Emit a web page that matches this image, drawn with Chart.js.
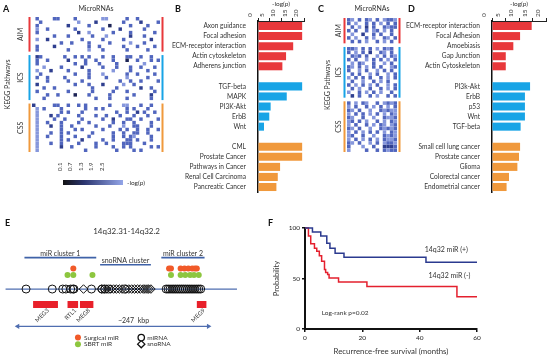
<!DOCTYPE html>
<html>
<head>
<meta charset="utf-8">
<script src="https://cdn.jsdelivr.net/npm/chart.js@4.4.0/dist/chart.umd.min.js"></script>
<style>
html, body { margin: 0; padding: 0; background: #fff; }
#wrap { position: relative; width: 550px; height: 356px; overflow: hidden; }
.pane { position: absolute; }
.tag { position: absolute; font: bold 9px Lato, sans-serif; color: #111; }
</style>
</head>
<body>
<div id="wrap">
  <div class="pane" style="left:0;top:0;width:175px;height:200px"><canvas id="heatA"></canvas></div>
  <div class="pane" style="left:40px;top:160px;width:110px;height:30px"><canvas id="scaleA"></canvas></div>
  <div class="pane" style="left:140px;top:0;width:170px;height:200px"><canvas id="barsB"></canvas></div>
  <div class="pane" style="left:300px;top:0;width:110px;height:200px"><canvas id="heatC"></canvas></div>
  <div class="pane" style="left:385px;top:0;width:165px;height:200px"><canvas id="barsD"></canvas></div>
  <div class="pane" style="left:0;top:195px;width:250px;height:161px"><canvas id="locusE"></canvas></div>
  <div class="pane" style="left:270px;top:200px;width:280px;height:156px"><canvas id="kmF"></canvas></div>
  <div class="tag" style="left:3px;top:3px">A</div>
  <div class="tag" style="left:175px;top:3px">B</div>
  <div class="tag" style="left:318px;top:3px">C</div>
  <div class="tag" style="left:408px;top:3px">D</div>
  <div class="tag" style="left:5px;top:217px">E</div>
  <div class="tag" style="left:268px;top:217px">F</div>
</div>
<script>
// ---- A: miRNA x pathway -log(p) heatmap, one string per pathway row ('.' = empty, 1 dark .. 4 light)
const heatAimA = [
  ".3....33....3.......44.....3..3......",
  "..3..........4....2.......3....2....3",
  ".3........2.....3.....1.....3....3...",
  ".4..3.......3.......3....2......3....",
  ".3...........2..4......3....3......3.",
  "......3...3......3...4......2...3....",
  ".4..2.........3.....3.....3.......2..",
  "........3..3....3.....3.....4...3....",
  ".3....2.........3..3......3...3....3.",
  ".3........3.....4...3......3.....3..."
];
const heatIcsA = [
  ".23......3..3.3.3...3..3...33..3..3..",
  ".3..3.....2....3..3....3...1..3...3.3",
  ".3..........3..3...3....3.......4....",
  "...4....3.....2.....3...3...3..3...3.",
  ".4...2....3.....3......4....3....3...",
  "..3.........3...3...4......3..3....3.",
  ".3..3....3......3....3.....4.....3...",
  "....3.....3...3..........3..3..3....3",
  ".2..........3...3...2.....4..3.......",
  "...3..3..........3......3......2..3..",
  ".3........3......3.....3...3.......3.",
  "....3..3....1...3.....3......3....2..",
  "...3..............3...3....3......3.."
];
const heatCssA = [
  "2.....33..3..3.3......3...44...3..3..",
  ".4.3....3......3..3.3......3.3...3...",
  ".4......3.3...3.........3..3..2.3..3.",
  ".4...2.3.....3....3..3...3...3...3...",
  ".4....3..3....3.....3..2...33..3....3",
  ".4..3...3....3..3......3..3..3....3..",
  ".4...2..3..3......3...3...4..33...3..",
  ".4......3...3.3.....3....3.3..3..3..3",
  ".4...3..3.3......3.....3..3..33..3...",
  ".4..3...3...3...3......3..3.34....3..",
  ".4......3.3...2.....3..3...33.3...3..",
  ".4...3..3....3....3..3....333...3....",
  ".4......2..3......3....3..3.3.....3.3",
  ".4.............3........3....3.3....."
];

// ---- C: heatmap for the second miRNA set
const heatAimC = [
  "34.3.34.3.4334",
  "3.4..3.3.4.3.3",
  ".3.4.2.3..3433",
  "3.3..3.43.4.3.",
  ".4..2..3.3..3.",
  "3.4..3.4..34.3",
  ".3.3.4..3.4.3."
];
const heatIcsC = [
  "334.3.3.4.343.",
  "3.4.3.2..34.3.",
  ".343.3..4.3.34",
  "3.3..4.3.3.4.3",
  ".4.34..3..4.3.",
  "34.3.4.3.3..43",
  "3..4.3..4.3.3.",
  ".3.3..4.3..4.3",
  "4.3.3.3..3.4.3",
  ".3..4..3.4.3..",
  "3.4.3.4.3..4.3",
  ".3.4..3..3.4.3",
  "4..3.4.3.4..3.",
  ".2.3..3.4..3.3"
];
const heatCssC = [
  "3.4.34..3.4343",
  "4.3..3.4.3.4.3",
  "34.3..4..34344",
  "4.3.3.4.3.4.34",
  "34..3..4..3443",
  "43.3.4..3.4.34",
  "4.3..3.4.34.43",
  "34.3..4..34343",
  "4.3.4.3.3.4.34",
  "43..3..4..3434",
  "4.3.4.3.4.3443",
  "34.3..4.3.4334",
  "3...4..3..2223",
  "4....3..3.3433"
];
const scaleTicks = [0.1, 0.7, 1.3, 1.9, 2.5];

// ---- B: enriched pathways
const bAimLabels = ['Axon guidance', 'Focal adhesion', 'ECM-receptor interaction', 'Actin cytoskeleton', 'Adherens junction'];
const bAimValues = [19.2, 19.2, 15.3, 12.2, 10.6];
const bIcsLabels = ['TGF-beta', 'MAPK', 'PI3K-Akt', 'ErbB', 'Wnt'];
const bIcsValues = [19.2, 12.5, 5.5, 4.9, 2.6];
const bCssLabels = ['CML', 'Prostate Cancer', 'Pathways in Cancer', 'Renal Cell Carcinoma', 'Pancreatic Cancer'];
const bCssValues = [19.2, 19.2, 9.6, 8.6, 8.0];

// ---- D
const dAimLabels = ['ECM-receptor interaction', 'Focal Adhesion', 'Amoebiasis', 'Gap Junction', 'Actin Cytoskeleton'];
const dAimValues = [14.7, 10.4, 7.9, 5.1, 5.1];
const dIcsLabels = ['PI3k-Akt', 'ErbB', 'p53', 'Wnt', 'TGF-beta'];
const dIcsValues = [14.1, 12.2, 12.2, 12.2, 10.6];
const dCssLabels = ['Small cell lung cancer', 'Prostate cancer', 'Glioma', 'Colorectal cancer', 'Endometrial cancer'];
const dCssValues = [10.4, 10.0, 9.4, 6.3, 5.4];
const logpTicks = [0, 5, 10, 15, 20];

// ---- E: 14q32 locus, positions in kbp from the start of the ~247 kbp span
const mirnaPos = [10.8, 44.7, 58.3, 62.4, 68.6, 71.6, 72.8, 95.5, 109.2, 112.9, 117.9, 139,
  192.3, 194.8, 197.3, 199.8, 202.2, 204.7, 207.2, 209.7, 212.2, 214.6, 217.1, 219.6, 222.1,
  224.6, 227.0, 229.5, 232.0, 234.5, 237.0];
const snornaPos = [85.2, 107.9, 111.7, 115.4, 120.3, 124.1, 127.8, 131.5, 135.2, 140.2, 143.9,
  147.6, 151.4, 155.1, 158.8, 162.5, 165, 167.5, 170, 172.5];
const surgicalPos = [72, 196, 198.5, 211, 216, 221, 226, 229.5, 232];
const sbrtPos = [64.5, 72, 96.8, 198.5, 211, 217, 223.3, 228.3, 234.5];
const geneNames = ['MEG3', 'RTL1', 'MEG8', 'MEG9'];
const geneStart = [19.9, 64.5, 80.6, 232];
const geneEnd = [52.1, 78.2, 98, 244.4];
const clusterNames = ['miR cluster 1', 'snoRNA cluster', 'miR cluster 2'];
const clusterStart = [8.7, 106.7, 186];
const clusterEnd = [101.7, 172.5, 242];
const spanKbp = 247;

// ---- F: Kaplan-Meier, recurrence-free survival
const posTimes = [0, 2.6, 5.5, 7.6, 8.7, 10.5, 13.6, 42.2, 60];
const posSurv = [100, 96, 92, 85, 80, 75, 71, 66, 66];
const negTimes = [0, 1.2, 2, 3.3, 4.1, 5, 5.8, 6.8, 7.2, 7.9, 8.4, 11.7, 21.6, 53, 60];
const negSurv = [100, 92, 84.5, 80, 77, 72.6, 67, 59, 56, 54, 50.5, 46.5, 42, 32, 32];

const RED = '#e8383b', BLUE = '#18a4e6', ORANGE = '#f0993c';
const FONT = 'Lato, sans-serif';
const heatColors = { 1: '#1d2456', 2: '#2f3f8f', 3: '#5166be', 4: '#8697dc' };

// text placed in data coordinates
const notes = {
  id: 'notes',
  afterDatasetsDraw(chart, args, opts) {
    const items = opts.items || [];
    const { ctx, scales } = chart;
    items.forEach(n => {
      const px = scales.x.getPixelForValue(n.x);
      const py = scales.y.getPixelForValue(n.y);
      ctx.save();
      ctx.font = (n.size || 7) + 'px ' + FONT;
      ctx.fillStyle = n.color || '#333';
      ctx.textAlign = n.align || 'center';
      ctx.textBaseline = 'middle';
      ctx.translate(px + (n.dx || 0), py + (n.dy || 0));
      if (n.rot) ctx.rotate(n.rot);
      ctx.fillText(n.text, 0, 0);
      ctx.restore();
    });
  }
};

// coloured group bars + labels beside the heatmaps
const groupBars = {
  id: 'groupBars',
  afterDatasetsDraw(chart, args, opts) {
    if (!opts.groups) return;
    const { ctx, chartArea: a, scales: { y } } = chart;
    ctx.save();
    ctx.font = '7px ' + FONT;
    ctx.textAlign = 'center';
    ctx.textBaseline = 'middle';
    opts.groups.forEach(g => {
      const top = y.getPixelForValue(g.from - 0.5), bot = y.getPixelForValue(g.to + 0.5);
      ctx.fillStyle = g.color;
      ctx.fillRect(a.left - 3.5, top, 2, bot - top);
      ctx.fillRect(a.right + 1.5, top, 2, bot - top);
      ctx.fillStyle = '#333';
      ctx.save();
      ctx.translate(a.left - opts.labelGap, (top + bot) / 2);
      ctx.rotate(-Math.PI / 2);
      ctx.fillText(g.name, 0, 0);
      ctx.restore();
    });
    ctx.fillStyle = '#333';
    ctx.save();
    ctx.translate(a.left - opts.titleGap, (a.top + a.bottom) / 2);
    ctx.rotate(-Math.PI / 2);
    ctx.fillText('KEGG Pathways', 0, 0);
    ctx.restore();
    ctx.fillText('MicroRNAs', (a.left + a.right) / 2, 9);
    ctx.restore();
  }
};

Chart.register(notes, groupBars);
Chart.defaults.font.family = FONT;
Chart.defaults.animation = false;
Chart.defaults.plugins.legend.display = false;
Chart.defaults.plugins.tooltip.enabled = false;
Chart.defaults.responsive = true;
Chart.defaults.maintainAspectRatio = false;

function heatmap(id, groups, nCols, pad, radius, labelGap, titleGap) {
  const cells = [];
  const spans = [];
  let row = 0;
  groups.forEach(g => {
    const from = row;
    g.rows.forEach(str => {
      [...str].forEach((ch, col) => {
        if (ch !== '.') cells.push({ x: col, y: row, v: ch });
      });
      row++;
    });
    spans.push({ name: g.name, color: g.color, from: from, to: row - 1 });
    row++;
  });
  const nRows = row - 1;
  return new Chart(document.getElementById(id), {
    type: 'scatter',
    data: {
      datasets: [{
        data: cells,
        pointStyle: 'rect',
        pointRadius: radius,
        borderWidth: 0,
        backgroundColor: cells.map(c => heatColors[c.v])
      }]
    },
    options: {
      layout: { padding: pad },
      scales: {
        x: { type: 'linear', display: false, min: -0.5, max: nCols - 0.5 },
        y: { type: 'linear', display: false, reverse: true, min: -0.5, max: nRows - 0.5 }
      },
      plugins: { groupBars: { groups: spans, labelGap: labelGap, titleGap: titleGap } }
    }
  });
}

heatmap('heatA', [
  { name: 'AIM', color: RED, rows: heatAimA },
  { name: 'ICS', color: BLUE, rows: heatIcsA },
  { name: 'CSS', color: ORANGE, rows: heatCssA }
], 37, { left: 32, right: 15, top: 17, bottom: 48 }, 2.45, 11, 24);

heatmap('heatC', [
  { name: 'AIM', color: RED, rows: heatAimC },
  { name: 'ICS', color: BLUE, rows: heatIcsC },
  { name: 'CSS', color: ORANGE, rows: heatCssC }
], 14, { left: 47, right: 13, top: 18, bottom: 48 }, 2.5, 8, 19);

// colour key of panel A
new Chart(document.getElementById('scaleA'), {
  type: 'bar',
  data: {
    labels: [''],
    datasets: [{
      data: [[-0.13, 3.3]],
      barPercentage: 1,
      categoryPercentage: 1,
      backgroundColor: (c) => {
        const a = c.chart.chartArea;
        if (!a) return '#4a5fb0';
        const g = c.chart.ctx.createLinearGradient(a.left, 0, a.right, 0);
        g.addColorStop(0, '#131313');
        g.addColorStop(0.35, '#2b356f');
        g.addColorStop(1, '#93a5e8');
        return g;
      }
    }]
  },
  options: {
    indexAxis: 'y',
    layout: { padding: { left: 23, right: 27, bottom: 5 } },
    scales: {
      x: {
        position: 'top', min: -0.13, max: 3.3,
        afterBuildTicks: (s) => { s.ticks = scaleTicks.map(v => ({ value: v })); },
        afterFit: (s) => { s.height = 20; },
        ticks: { minRotation: 90, maxRotation: 90, padding: 1, color: '#333', font: { size: 6 },
          callback: (v) => v.toFixed(1) },
        grid: { display: false },
        border: { display: false }
      },
      y: { display: false }
    },
    plugins: { notes: { items: [{ text: '-log(p)', x: 3.3, y: 0, dx: 4, align: 'left', size: 6.5 }] } }
  }
});

function pathwayBars(id, aimL, aimV, icsL, icsV, cssL, cssV, labelWidth, pad) {
  const labels = [...aimL, '', ...icsL, '', ...cssL];
  const values = [...aimV, null, ...icsV, null, ...cssV];
  const colors = [...aimL.map(() => RED), RED, ...icsL.map(() => BLUE), BLUE, ...cssL.map(() => ORANGE)];
  return new Chart(document.getElementById(id), {
    type: 'bar',
    data: { labels: labels, datasets: [{ data: values, backgroundColor: colors, barPercentage: 0.8, categoryPercentage: 1 }] },
    options: {
      indexAxis: 'y',
      layout: { padding: pad },
      scales: {
        x: {
          position: 'top', min: 0, max: 20,
          afterBuildTicks: (s) => { s.ticks = logpTicks.map(v => ({ value: v })); },
          afterFit: (s) => { s.height = 21; },
          ticks: { minRotation: 90, maxRotation: 90, padding: 1, color: '#333', font: { size: 6.5 } },
          grid: { drawOnChartArea: false, tickLength: 3, color: '#222' },
          border: { color: '#222', width: 1 },
          title: { display: true, text: '-log(p)', color: '#333', font: { size: 6.5 }, padding: { top: 0, bottom: 0 } }
        },
        y: {
          afterFit: (s) => { s.width = labelWidth; },
          ticks: { color: '#333', font: { size: 6.6 }, padding: 4, autoSkip: false },
          grid: { display: false },
          border: { color: '#111', width: 1.5 }
        }
      }
    }
  });
}

pathwayBars('barsB', bAimLabels, bAimValues, bIcsLabels, bIcsValues, bCssLabels, bCssValues, 118,
  { right: 6, bottom: 2 });
pathwayBars('barsD', dAimLabels, dAimValues, dIcsLabels, dIcsValues, dCssLabels, dCssValues, 107,
  { right: 4, bottom: 2 });

// ---- E: locus map. y is a track index (0 = chromosome line)
const LINE_BLUE = '#4f6eb0';
const lineDs = (x0, x1, y, color, width, extra) => Object.assign({
  data: [{ x: x0, y: y }, { x: x1, y: y }], showLine: true, pointRadius: 0,
  borderColor: color, borderWidth: width, borderCapStyle: 'butt'
}, extra || {});

const locusSets = [
  lineDs(-16, 284, 0, LINE_BLUE, 1.2, { order: 10 }),
  ...clusterNames.map((n, i) => lineDs(clusterStart[i], clusterEnd[i], i === 1 ? 3.71 : 4.8, '#3f62a8', 1.6)),
  ...geneNames.map((n, i) => lineDs(geneStart[i], geneEnd[i], -2.36, '#e8202a', 7)),
  lineDs(0, spanKbp, -5.71, LINE_BLUE, 1.3, {
    pointRadius: 3, pointStyle: 'triangle', pointRotation: [270, 90],
    pointBackgroundColor: LINE_BLUE, pointBorderWidth: 0
  }),
  { data: mirnaPos.map(p => ({ x: p, y: 0 })), pointStyle: 'circle', pointRadius: 4,
    borderColor: '#111', borderWidth: 1, backgroundColor: 'rgba(255,255,255,0)', order: 1 },
  { data: snornaPos.map(p => ({ x: p, y: 0 })), pointStyle: 'rectRot', pointRadius: 4.3,
    borderColor: '#111', borderWidth: 1, backgroundColor: 'rgba(255,255,255,0)', order: 1 },
  { data: surgicalPos.map(p => ({ x: p, y: 3.14 })), pointRadius: 3, borderWidth: 0, backgroundColor: '#f15a29' },
  { data: sbrtPos.map(p => ({ x: p, y: 2.14 })), pointRadius: 3, borderWidth: 0, backgroundColor: '#8dc63f' },
  // legend keys
  { data: [{ x: 78, y: -7.43 }], pointRadius: 3, borderWidth: 0, backgroundColor: '#f15a29' },
  { data: [{ x: 78, y: -8.43 }], pointRadius: 3, borderWidth: 0, backgroundColor: '#8dc63f' },
  { data: [{ x: 160, y: -7.43 }], pointStyle: 'circle', pointRadius: 3.2, borderColor: '#111', borderWidth: 1.3, backgroundColor: '#fff' },
  { data: [{ x: 160, y: -8.43 }], pointStyle: 'rectRot', pointRadius: 3.6, borderColor: '#111', borderWidth: 1.3, backgroundColor: '#fff' }
];

const locusNotes = [
  { text: '14q32.31-14q32.2', x: 141, y: 8.86, size: 8 },
  { text: clusterNames[0], x: (clusterStart[0] + clusterEnd[0]) / 2, y: 5.45, size: 7 },
  { text: clusterNames[1], x: (clusterStart[1] + clusterEnd[1]) / 2, y: 4.4, size: 7 },
  { text: clusterNames[2], x: (clusterStart[2] + clusterEnd[2]) / 2, y: 5.45, size: 7 },
  { text: '~247  kbp', x: 150, y: -4.86, size: 7 },
  ...geneNames.map((n, i) => ({ text: n, x: (geneStart[i] + geneEnd[i]) / 2, y: -2.36, dx: 2.5, dy: 5,
    rot: -Math.PI / 4, align: 'right', size: 6 })),
  { text: 'Surgical miR', x: 78, y: -7.43, dx: 6, align: 'left', size: 6.5 },
  { text: 'SBRT miR', x: 78, y: -8.43, dx: 6, align: 'left', size: 6.5 },
  { text: 'miRNA', x: 160, y: -7.43, dx: 6, align: 'left', size: 6.5 },
  { text: 'snoRNA', x: 160, y: -8.43, dx: 6, align: 'left', size: 6.5 }
];

new Chart(document.getElementById('locusE'), {
  type: 'scatter',
  data: { datasets: locusSets },
  options: {
    layout: { padding: 0 },
    scales: {
      x: { type: 'linear', display: false, min: -16.1, max: 294 },
      y: { type: 'linear', display: false, min: -9.43, max: 13.57 }
    },
    plugins: { notes: { items: locusNotes } }
  }
});

// ---- F: Kaplan-Meier
new Chart(document.getElementById('kmF'), {
  type: 'line',
  data: {
    datasets: [
      { label: '14q32 miR (+)', data: posTimes.map((t, i) => ({ x: t, y: posSurv[i] })),
        borderColor: '#2b3a8f', borderWidth: 1.5, pointRadius: 0, stepped: true, clip: 4 },
      { label: '14q32 miR (-)', data: negTimes.map((t, i) => ({ x: t, y: negSurv[i] })),
        borderColor: '#e4202e', borderWidth: 1.5, pointRadius: 0, stepped: true, clip: 4 }
    ]
  },
  options: {
    layout: { padding: { top: 28, right: 73 } },
    scales: {
      x: {
        type: 'linear', min: 0, max: 60,
        afterFit: (s) => { s.height = 27; },
        ticks: { stepSize: 20, color: '#222', font: { size: 6.5 }, padding: 2 },
        grid: { drawOnChartArea: false, color: '#111', tickLength: 3, lineWidth: 1.5 },
        border: { color: '#111', width: 2 },
        title: { display: true, text: 'Recurrence-free survival (months)', color: '#333', font: { size: 7.8 }, padding: 0 }
      },
      y: {
        min: 0, max: 100,
        afterFit: (s) => { s.width = 35; },
        ticks: { stepSize: 50, color: '#222', font: { size: 6.5 }, padding: 2 },
        grid: { drawOnChartArea: false, color: '#111', tickLength: 3, lineWidth: 1.5 },
        border: { color: '#111', width: 2 },
        title: { display: true, text: 'Probability', color: '#333', font: { size: 7.5 }, padding: { top: 2, bottom: 0 } }
      }
    },
    plugins: {
      notes: { items: [
        { text: '14q32 miR (+)', x: 49.3, y: 78, size: 7 },
        { text: '14q32 miR (-)', x: 50.4, y: 52.8, size: 7 },
        { text: 'Log-rank p=0.02', x: 14, y: 16, size: 6.5 }
      ] }
    }
  }
});
</script>
</body>
</html>
